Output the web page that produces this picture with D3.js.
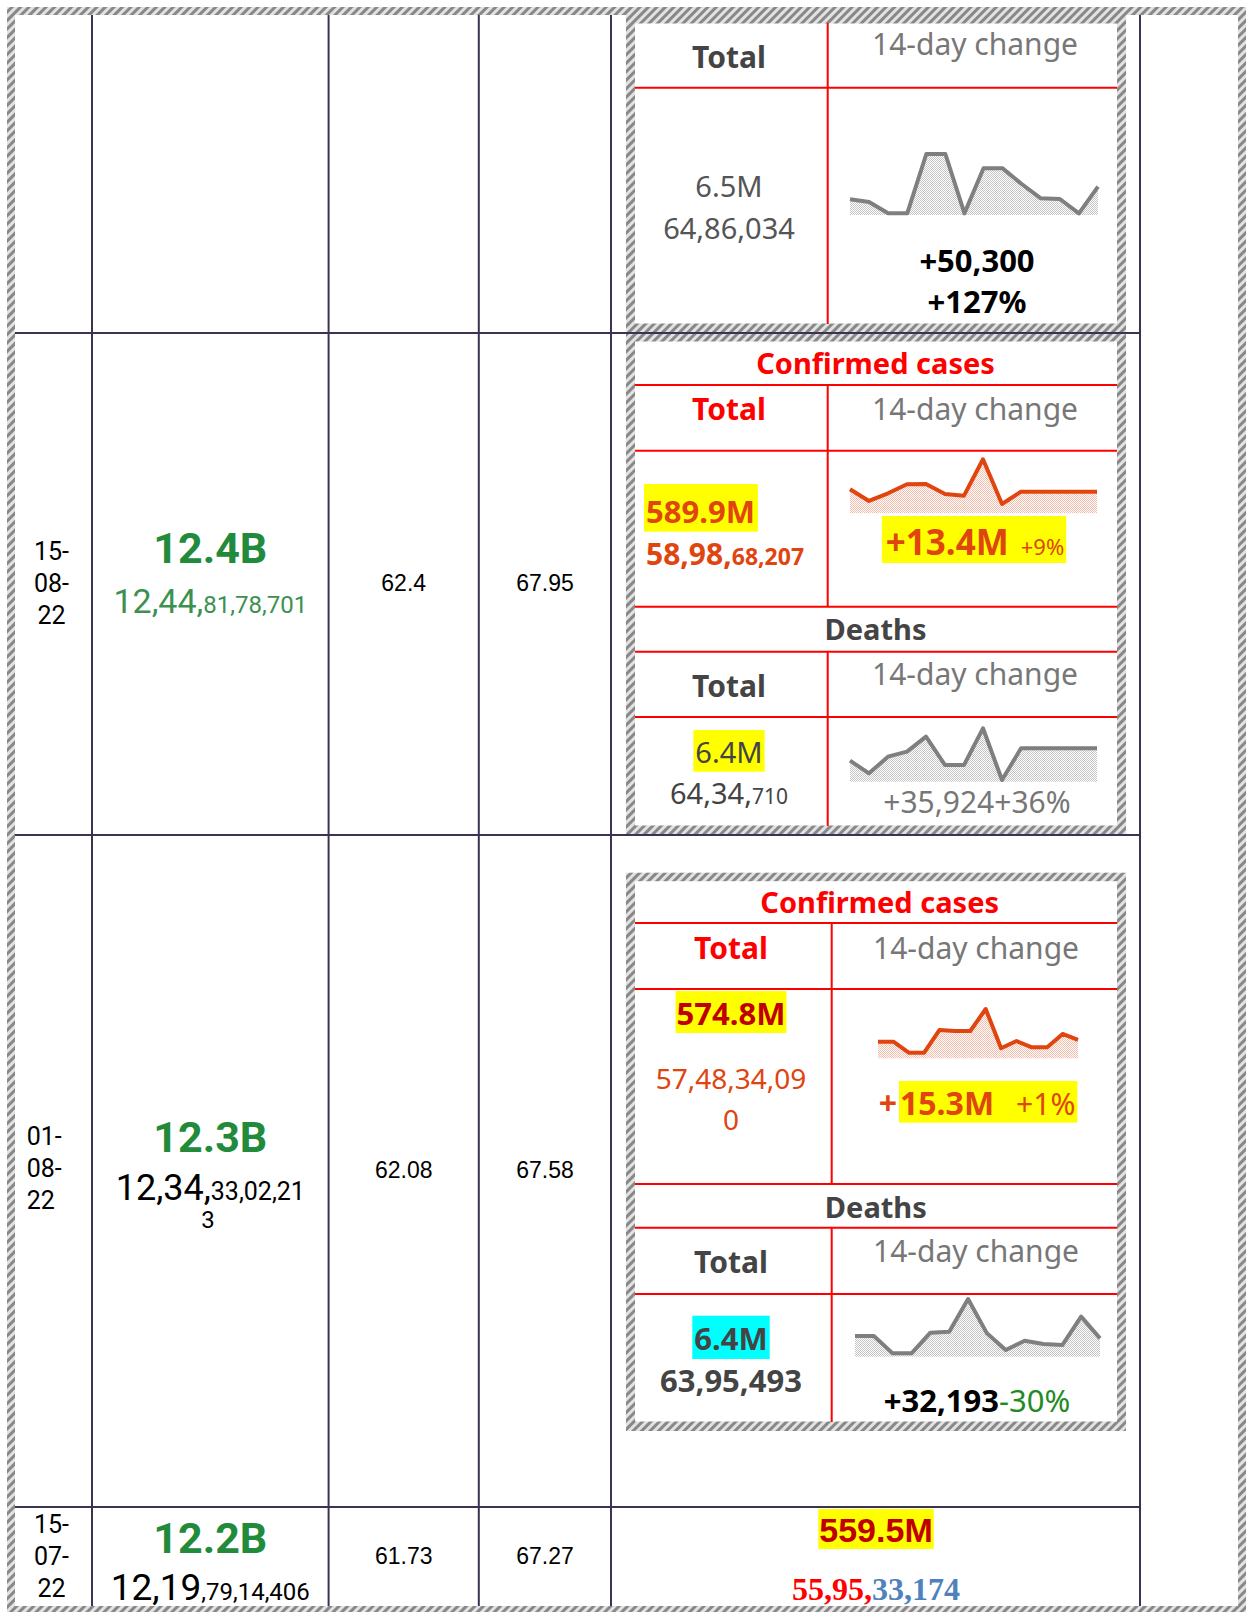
<!DOCTYPE html>
<html>
<head>
<meta charset="utf-8">
<script src="https://cdn.jsdelivr.net/npm/d3@7"></script>
<style>
  body { margin: 0; background: #fff; }
  svg { display: block; }
</style>
</head>
<body>
<div id="chart"></div>
<script>
// table values, newest row first
var rowDates = ['15-08-22', '01-08-22', '15-07-22']
var worldShort = ['12.4B', '12.3B', '12.2B']
var worldFull = ['12,44,81,78,701', '12,34,33,02,213', '12,19,79,14,406']
var pctA = ['62.4', '62.08', '61.73']
var pctB = ['67.95', '67.58', '67.27']

var casesShort = ['589.9M', '574.8M', '559.5M']
var casesFull = ['58,98,68,207', '57,48,34,090', '55,95,33,174']
var casesChange = ['+13.4M', '+15.3M']
var casesChangePct = ['+9%', '+1%']

// first entry belongs to the row cut off at the top
var deathsShort = ['6.5M', '6.4M', '6.4M']
var deathsFull = ['64,86,034', '64,34,710', '63,95,493']
var deathsChange = ['+50,300', '+35,924', '+32,193']
var deathsChangePct = ['+127%', '+36%', '-30%']

// 14-day sparklines (relative daily heights)
var sparkDeathsTop = [47, 39, 5, 5, 183, 183, 5, 140, 140, 93, 50, 48, 5, 85]
var sparkCasesAug15 = [72, 37, 60, 87, 88, 58, 53, 162, 28, 65, 65, 65, 65, 65]
var sparkDeathsAug15 = [63, 25, 75, 90, 135, 50, 50, 160, 5, 100, 100, 100, 100, 100]
var sparkCasesAug01 = [50, 50, 17, 17, 85, 82, 82, 148, 30, 52, 33, 33, 73, 55]
var sparkDeathsAug01 = [62, 62, 10, 10, 72, 75, 173, 70, 20, 48, 38, 35, 120, 55]

var width = 1246
var height = 1612

var noto = "'Noto Sans', 'DejaVu Sans', sans-serif"
var roboto = "Roboto, 'Noto Sans', sans-serif"
var arial = "'Liberation Sans', Arial, sans-serif"
var serif = "'Liberation Serif', 'Times New Roman', serif"

var orange = '#e0440f'
var gridColor = '#3e3252'

var svg = d3
  .select('#chart')
  .append('svg')
  .attr('width', width)
  .attr('height', height)

var defs = svg.append('defs')

var hatch = defs
  .append('pattern')
  .attr('id', 'hatch')
  .attr('patternUnits', 'userSpaceOnUse')
  .attr('width', 6)
  .attr('height', 6)
  .attr('patternTransform', 'rotate(45)')
hatch.append('rect').attr('width', 6).attr('height', 6).attr('fill', '#e2e2e2')
hatch.append('rect').attr('width', 3).attr('height', 6).attr('fill', '#888')

function dotPattern(id, color) {
  var p = defs
    .append('pattern')
    .attr('id', id)
    .attr('patternUnits', 'userSpaceOnUse')
    .attr('width', 2)
    .attr('height', 2)
  p.append('rect').attr('width', 2).attr('height', 2).attr('fill', '#fff')
  p.append('rect').attr('width', 1).attr('height', 1).attr('fill', color)
  p.append('rect').attr('x', 1).attr('y', 1).attr('width', 1).attr('height', 1).attr('fill', color)
}
dotPattern('dots-gray', '#c4c4c4')
dotPattern('dots-orange', '#f4bcaa')

svg.append('rect').attr('width', width).attr('height', height).attr('fill', '#fff')

var frameLayer = svg.append('g')
var hlLayer = svg.append('g')
var lineLayer = svg.append('g')
var textLayer = svg.append('g')

// outer hatched frame
frameLayer.append('rect').attr('x', 7).attr('y', 7).attr('width', 1239).attr('height', 8).attr('fill', 'url(#hatch)')
frameLayer.append('rect').attr('x', 7).attr('y', 7).attr('width', 8).attr('height', 1605).attr('fill', 'url(#hatch)')
frameLayer.append('rect').attr('x', 1238).attr('y', 7).attr('width', 8).attr('height', 1605).attr('fill', 'url(#hatch)')
frameLayer.append('rect').attr('x', 7).attr('y', 1606).attr('width', 1239).attr('height', 6).attr('fill', 'url(#hatch)')

// inner hatched boxes
var boxL = 626
var boxR = 1126
var inL = 635
var inR = 1117
var boxes = [
  { top: 15, bottom: 333, mid: 827.7 },
  { top: 333, bottom: 835, mid: 827.7 },
  { top: 872.7, bottom: 1431, mid: 831.7 }
]
boxes.forEach(function (b) {
  frameLayer.append('rect')
    .attr('x', boxL).attr('y', b.top)
    .attr('width', boxR - boxL).attr('height', b.bottom - b.top)
    .attr('fill', 'url(#hatch)')
  frameLayer.append('rect')
    .attr('x', inL).attr('y', b.top + 8.5)
    .attr('width', inR - inL).attr('height', b.bottom - b.top - 18)
    .attr('fill', '#fff')
})

// table grid
var colX = [92, 328.6, 478.8, 611, 1140]
var rowY = [333, 835, 1507]
colX.forEach(function (x) {
  svg.append('line')
    .attr('x1', x).attr('x2', x).attr('y1', 15).attr('y2', 1606)
    .attr('stroke', gridColor).attr('stroke-width', 2)
})
rowY.forEach(function (y) {
  svg.append('line')
    .attr('x1', 15).attr('x2', 1140).attr('y1', y).attr('y2', y)
    .attr('stroke', gridColor).attr('stroke-width', 2)
})

function redH(y) {
  lineLayer.append('line')
    .attr('x1', inL).attr('x2', inR).attr('y1', y).attr('y2', y)
    .attr('stroke', '#ff0000').attr('stroke-width', 2)
}
function redV(x, y0, y1) {
  lineLayer.append('line')
    .attr('x1', x).attr('x2', x).attr('y1', y0).attr('y2', y1)
    .attr('stroke', '#ff0000').attr('stroke-width', 2)
}

redH(87.7)
redV(827.7, 23, 324)

redH(385)
redH(450.7)
redH(606.7)
redH(651.7)
redH(717)
redV(827.7, 385, 606.7)
redV(827.7, 651.7, 826)

redH(923)
redH(989)
redH(1184)
redH(1227.7)
redH(1294)
redV(831.7, 923, 1184)
redV(831.7, 1227.7, 1422)

function label(x, y, anchor, parts) {
  var t = textLayer.append('text')
    .attr('x', x).attr('y', y)
    .attr('text-anchor', anchor)
  parts.forEach(function (p) {
    t.append('tspan')
      .text(p.t)
      .attr('font-size', p.size)
      .attr('font-weight', p.weight || 400)
      .attr('fill', p.fill || '#000')
      .attr('font-family', p.font || noto)
      .attr('dx', p.dx || null)
  })
  return t
}

// highlight tspans [from..to] of a label
function highlight(t, from, to, color, y0, y1, padL, padR) {
  var spans = t.selectAll('tspan').nodes()
  var a = spans[from]
  var b = spans[to]
  var x0 = a.getStartPositionOfChar(0).x
  var x1 = b.getEndPositionOfChar(b.getNumberOfChars() - 1).x
  hlLayer.append('rect')
    .attr('x', x0 - padL).attr('y', y0)
    .attr('width', x1 - x0 + padL + padR).attr('height', y1 - y0)
    .attr('fill', color)
}

function spark(values, x0, x1, bottom, top, stroke, fillId) {
  var x = d3.scaleLinear().domain([0, values.length - 1]).range([x0, x1])
  var y = d3.scaleLinear().domain([0, d3.max(values)]).range([bottom, top])
  var area = d3.area()
    .x(function (d, i) { return x(i) })
    .y0(bottom)
    .y1(function (d) { return y(d) })
  var line = d3.line()
    .x(function (d, i) { return x(i) })
    .y(function (d) { return y(d) })
  lineLayer.append('path').datum(values).attr('d', area).attr('fill', 'url(#' + fillId + ')')
  lineLayer.append('path').datum(values).attr('d', line)
    .attr('fill', 'none').attr('stroke', stroke).attr('stroke-width', 4)
    .attr('stroke-linejoin', 'round')
}

function splitBig(s) {
  // first two groups large, the rest small
  var parts = s.split(',')
  return [parts.slice(0, 2).join(',') + ',', parts.slice(2).join(',')]
}

var headFill = '#444'
var subFill = '#777'

// ---- box 1 (deaths, row cut off at top)
label(729, 68, 'middle', [{ t: 'Total', size: 30, weight: 700, fill: headFill }])
label(975, 55, 'middle', [{ t: '14-day change', size: 30, fill: subFill }])
label(729, 197, 'middle', [{ t: deathsShort[0], size: 29, fill: '#555' }])
label(729, 239, 'middle', [{ t: deathsFull[0], size: 29, fill: '#555' }])
spark(sparkDeathsTop, 850, 1098, 215, 154, '#7f7f7f', 'dots-gray')
label(977, 272, 'middle', [{ t: deathsChange[0], size: 31, weight: 700 }])
label(977, 313, 'middle', [{ t: deathsChangePct[0], size: 31, weight: 700 }])

// ---- box 2 (15-08-22)
label(875.5, 374, 'middle', [{ t: 'Confirmed cases', size: 29, weight: 700, fill: '#ff0000' }])
label(729, 420, 'middle', [{ t: 'Total', size: 30, weight: 700, fill: '#ff0000' }])
label(975, 420, 'middle', [{ t: '14-day change', size: 30, fill: subFill }])
var c2 = label(646, 523, 'start', [{ t: casesShort[0], size: 31, weight: 700, fill: orange }])
highlight(c2, 0, 0, '#ffff00', 484, 531.7, 2, 3)
var c2f = splitBig(casesFull[0])
label(646, 565, 'start', [
  { t: c2f[0], size: 30, weight: 700, fill: orange },
  { t: c2f[1], size: 23, weight: 700, fill: orange }
])
spark(sparkCasesAug15, 850, 1097, 513.3, 459.3, orange, 'dots-orange')
var ch2 = label(975, 555, 'middle', [
  { t: casesChange[0], size: 35, weight: 700, fill: orange },
  { t: casesChangePct[0], size: 22, fill: orange, dx: 12 }
])
highlight(ch2, 0, 1, '#ffff00', 516, 563, 4, 2)

label(875.5, 640, 'middle', [{ t: 'Deaths', size: 29, weight: 700, fill: headFill }])
label(729, 697, 'middle', [{ t: 'Total', size: 30, weight: 700, fill: headFill }])
label(975, 685, 'middle', [{ t: '14-day change', size: 30, fill: subFill }])
var d2 = label(729, 763, 'middle', [{ t: deathsShort[1], size: 29, fill: headFill }])
highlight(d2, 0, 0, '#ffff00', 730, 771.7, 2, 2)
var d2f = splitBig(deathsFull[1])
label(729, 804, 'middle', [
  { t: d2f[0], size: 29, fill: headFill },
  { t: d2f[1], size: 21, fill: headFill }
])
spark(sparkDeathsAug15, 850, 1097, 781.7, 728.3, '#7f7f7f', 'dots-gray')
label(977, 813, 'middle', [{ t: deathsChange[1] + deathsChangePct[1], size: 30, fill: subFill }])

// ---- box 3 (01-08-22)
label(879.7, 913, 'middle', [{ t: 'Confirmed cases', size: 29, weight: 700, fill: '#ff0000' }])
label(731, 959, 'middle', [{ t: 'Total', size: 30, weight: 700, fill: '#ff0000' }])
label(976, 959, 'middle', [{ t: '14-day change', size: 30, fill: subFill }])
var c3 = label(731, 1025, 'middle', [{ t: casesShort[1], size: 31, weight: 700, fill: '#c00000' }])
highlight(c3, 0, 0, '#ffff00', 991, 1033, 1, 1)
var c3f = casesFull[1]
label(731, 1089, 'middle', [{ t: c3f.slice(0, -1), size: 28, fill: orange }])
label(731, 1130, 'middle', [{ t: c3f.slice(-1), size: 28, fill: orange }])
spark(sparkCasesAug01, 878, 1078, 1058.3, 1009, orange, 'dots-orange')
var ch3 = label(977, 1115, 'middle', [
  { t: casesChange[1].slice(0, 1), size: 32, weight: 700, fill: orange },
  { t: casesChange[1].slice(1), size: 32, weight: 700, fill: orange, dx: 3 },
  { t: casesChangePct[1], size: 30, fill: orange, dx: 22 }
])
highlight(ch3, 1, 2, '#ffff00', 1081, 1122.7, 1, 2)

label(875.8, 1218, 'middle', [{ t: 'Deaths', size: 29, weight: 700, fill: headFill }])
label(731, 1273, 'middle', [{ t: 'Total', size: 30, weight: 700, fill: headFill }])
label(976, 1262, 'middle', [{ t: '14-day change', size: 30, fill: subFill }])
var d3b = label(731, 1350, 'middle', [{ t: deathsShort[2], size: 31, weight: 700, fill: headFill }])
highlight(d3b, 0, 0, '#00ffff', 1315.7, 1359, 2, 2)
label(731, 1392, 'middle', [{ t: deathsFull[2], size: 31, weight: 700, fill: headFill }])
spark(sparkDeathsAug01, 855, 1100, 1356.7, 1299, '#7f7f7f', 'dots-gray')
label(977, 1412, 'middle', [
  { t: deathsChange[2], size: 31, weight: 700 },
  { t: deathsChangePct[2], size: 31, fill: '#238b23' }
])

// ---- left columns
var dateCenter = 51.5
var dateBase = [591.7, 1177, 1565]
rowDates.forEach(function (d, i) {
  var bits = d.split('-')
  var lines = [bits[0] + '-', bits[1] + '-', bits[2]]
  var anchor = i === 1 ? 'start' : 'middle'
  var x = i === 1 ? 26.7 : dateCenter
  lines.forEach(function (l, j) {
    label(x, dateBase[i] + (j - 1) * 32, anchor, [{ t: l, size: 25, font: roboto }])
  })
})

var popCenter = 210.3
var popBase = [563.3, 1152, 1552.7]
var popFullBase = [613.3, 1200, 1600]
worldShort.forEach(function (s, i) {
  label(popCenter, popBase[i], 'middle', [{ t: s, size: 43, weight: 700, fill: '#228b3b', font: roboto }])
})
// full population figures
var pf0 = splitBig(worldFull[0])
label(popCenter, popFullBase[0], 'middle', [
  { t: pf0[0], size: 34, fill: '#3c9150', font: roboto },
  { t: pf0[1], size: 24, fill: '#3c9150', font: roboto }
])
var pf1 = splitBig(worldFull[1])
label(popCenter, popFullBase[1], 'middle', [
  { t: pf1[0], size: 36, font: roboto },
  { t: pf1[1].slice(0, -1), size: 25, font: roboto }
])
label(208, 1228, 'middle', [{ t: pf1[1].slice(-1), size: 24, font: roboto }])
var pf2 = worldFull[2]
label(popCenter, popFullBase[2], 'middle', [
  { t: pf2.slice(0, 5), size: 37, font: roboto },
  { t: pf2.slice(5), size: 24, font: roboto }
])

var pctBase = [591, 1178, 1564]
pctA.forEach(function (v, i) {
  label(403.7, pctBase[i], 'middle', [{ t: v, size: 23, font: arial }])
})
pctB.forEach(function (v, i) {
  label(545, pctBase[i], 'middle', [{ t: v, size: 23, font: arial }])
})

// ---- bottom row cases (15-07-22)
var c4 = label(876, 1542, 'middle', [{ t: casesShort[2], size: 34, weight: 700, fill: '#c00000', font: arial }])
highlight(c4, 0, 0, '#ffff00', 1509, 1549, 1, 1)
var c4f = casesFull[2]
label(876, 1600, 'middle', [
  { t: c4f.slice(0, 6), size: 32, weight: 700, fill: '#ff0000', font: serif },
  { t: c4f.slice(6), size: 32, weight: 700, fill: '#4f81bd', font: serif }
])
</script>
</body>
</html>
